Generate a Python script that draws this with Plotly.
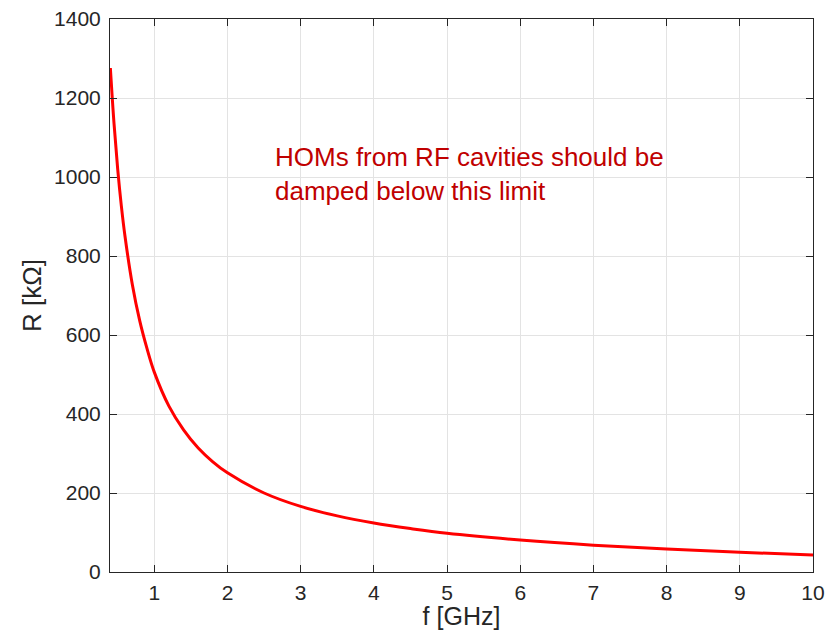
import plotly.graph_objects as go

f_ghz = [0.4, 0.45, 0.5, 0.55, 0.6, 0.7, 0.8, 0.9, 1.0, 1.2, 1.4, 1.6, 1.8, 2.0,
         2.5, 3.0, 3.5, 4.0, 4.5, 5.0, 6.0, 7.0, 8.0, 9.0, 10.0]
r_kohm = [1276, 1135, 1020, 927, 850, 728, 637, 566, 506, 420, 360, 314, 279, 251,
          200, 166, 142, 124, 110, 98, 81, 68, 58, 50, 43]
x_ticks = [1, 2, 3, 4, 5, 6, 7, 8, 9, 10]
y_ticks = [0, 200, 400, 600, 800, 1000, 1200, 1400]
note = "HOMs from RF cavities should be<br>damped below this limit"

FONT = "Liberation Sans, Arial, Helvetica, sans-serif"
AX = "#262626"

fig = go.Figure()
fig.add_trace(go.Scatter(x=f_ghz, y=r_kohm, mode="lines",
                         line=dict(color="#ff0000", width=3, shape="spline"),
                         showlegend=False))

axis_common = dict(showline=True, linecolor=AX, linewidth=1, mirror="ticks",
                   ticks="inside", ticklen=7, tickcolor=AX,
                   showgrid=True, gridcolor="#e3e3e3", gridwidth=1,
                   zeroline=False, automargin=False,
                   tickfont=dict(family=FONT, size=21, color=AX))
fig.update_xaxes(range=[0.395, 10], tickvals=x_ticks, ticklabelstandoff=2,
                 title=dict(text="f [GHz]", font=dict(family=FONT, size=25, color=AX), standoff=1),
                 **axis_common)
fig.update_yaxes(range=[0, 1400], tickvals=y_ticks, ticklabelstandoff=4,
                 title=dict(text="R [kΩ]", font=dict(family=FONT, size=26, color=AX), standoff=4),
                 **axis_common)

fig.add_annotation(x=2.62, y=1094, xref="x", yref="y", text=note, showarrow=False,
                   xanchor="left", yanchor="top", align="left",
                   font=dict(family=FONT, size=26, color="#c00000"))

fig.update_layout(width=832, height=630, margin=dict(l=110, r=19, t=19, b=58),
                  paper_bgcolor="white", plot_bgcolor="white")
fig.write_html("out.html")
